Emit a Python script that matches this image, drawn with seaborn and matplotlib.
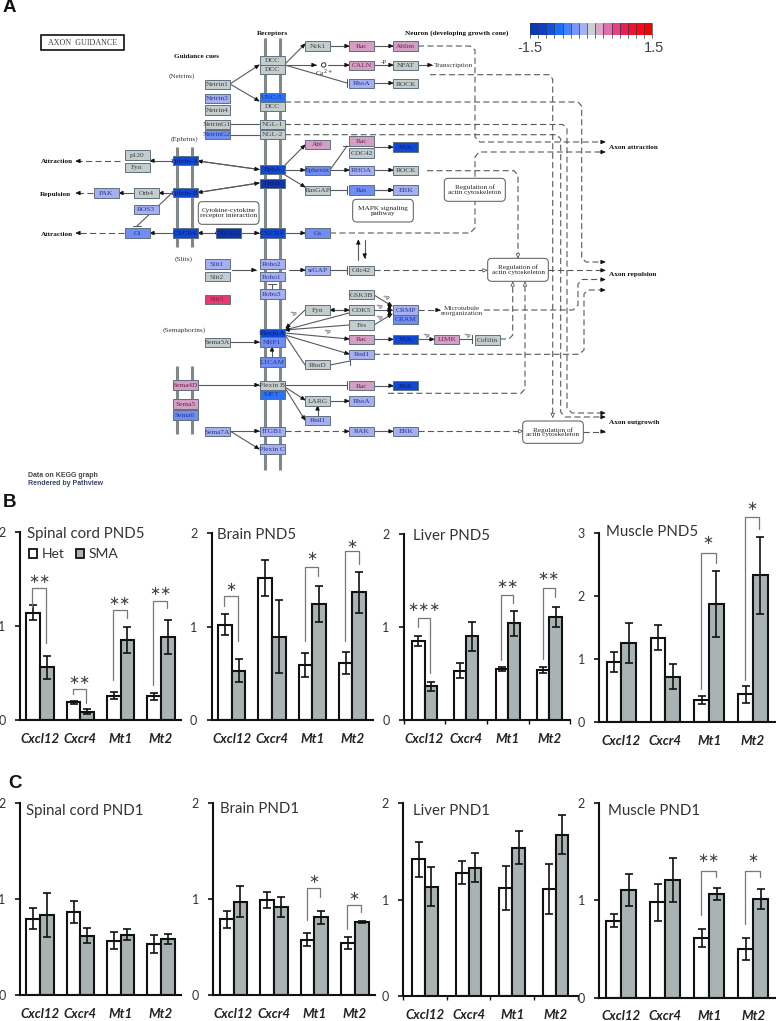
import matplotlib
matplotlib.use("Agg")
import matplotlib.pyplot as plt
from matplotlib.patches import Rectangle, FancyBboxPatch, Polygon, Circle
import numpy as np
import pandas as pd
import seaborn as sns

W, H = 776, 1021
sns.set_style("ticks")
plt.rcParams["font.family"] = ["Lato", "DejaVu Sans"]

GENES = ["Cxcl12", "Cxcr4", "Mt1", "Mt2"]
GROUPS = ["Het", "SMA"]

SC5_HET = [1.14, 0.19, 0.26, 0.25]
SC5_HET_ERR = [0.08, 0.015, 0.035, 0.035]
SC5_SMA = [0.56, 0.09, 0.85, 0.885]
SC5_SMA_ERR = [0.125, 0.025, 0.135, 0.18]
BR5_HET = [1.02, 1.52, 0.59, 0.61]
BR5_HET_ERR = [0.11, 0.19, 0.13, 0.12]
BR5_SMA = [0.53, 0.89, 1.24, 1.365]
BR5_SMA_ERR = [0.125, 0.39, 0.195, 0.22]
LV5_HET = [0.855, 0.53, 0.55, 0.54]
LV5_HET_ERR = [0.055, 0.08, 0.018, 0.035]
LV5_SMA = [0.365, 0.90, 1.04, 1.105]
LV5_SMA_ERR = [0.05, 0.16, 0.13, 0.107]
MU5_HET = [0.96, 1.34, 0.355, 0.44]
MU5_HET_ERR = [0.16, 0.20, 0.065, 0.13]
MU5_SMA = [1.255, 0.72, 1.875, 2.325]
MU5_SMA_ERR = [0.31, 0.20, 0.525, 0.61]
SC1_HET = [0.795, 0.86, 0.565, 0.527]
SC1_HET_ERR = [0.11, 0.113, 0.087, 0.094]
SC1_SMA = [0.83, 0.617, 0.627, 0.58]
SC1_SMA_ERR = [0.227, 0.08, 0.06, 0.052]
BR1_HET = [0.79, 0.988, 0.577, 0.543]
BR1_HET_ERR = [0.09, 0.082, 0.065, 0.06]
BR1_SMA = [0.975, 0.918, 0.81, 0.762]
BR1_SMA_ERR = [0.165, 0.105, 0.068, 0.012]
LV1_HET = [1.42, 1.28, 1.12, 1.115]
LV1_HET_ERR = [0.18, 0.12, 0.23, 0.26]
LV1_SMA = [1.135, 1.33, 1.54, 1.675]
LV1_SMA_ERR = [0.205, 0.15, 0.17, 0.205]
MU1_HET = [0.79, 0.978, 0.612, 0.496]
MU1_HET_ERR = [0.065, 0.19, 0.095, 0.113]
MU1_SMA = [1.105, 1.21, 1.067, 1.012]
MU1_SMA_ERR = [0.165, 0.225, 0.06, 0.106]

# significance: gene index, bracket top, left leg end, right leg end, stars, star height
SC5_SIG = [(0, 1.405, 1.20, 0.82, 2, 1.49), (1, 0.333, 0.276, 0.177, 2, 0.42),
           (2, 1.17, 0.43, 1.08, 2, 1.255), (3, 1.264, 0.37, 1.186, 2, 1.36)]
BR5_SIG = [(0, 1.33, 1.216, 0.852, 1, 1.42), (2, 1.636, 0.852, 1.544, 1, 1.75),
           (3, 1.804, 0.852, 1.672, 1, 1.875)]
LV5_SIG = [(0, 1.098, 0.998, 0.51, 3, 1.21), (2, 1.342, 0.648, 1.263, 2, 1.457),
           (3, 1.417, 0.655, 1.327, 2, 1.545)]
MU5_SIG = [(2, 2.673, 0.522, 2.525, 1, 2.87), (3, 3.242, 0.67, 3.057, 1, 3.42)]
BR1_SIG = [(2, 1.117, 0.783, 1.026, 1, 1.207), (3, 0.936, 0.685, 0.87, 1, 1.027)]
MU1_SIG = [(2, 1.299, 0.848, 1.241, 2, 1.425), (3, 1.299, 0.755, 1.241, 1, 1.425)]

# Panel A colours
GR, LB, MB, BB, DB, XB, PK, RD = ("#c4cccc", "#a6aff0", "#6f8df2", "#2a72f6", "#0f48d2",
                                  "#0c36a8", "#d2a0c2", "#e83a70")
SCALE_COLORS = ["#0a3bbf", "#0c40c8", "#0e52e0", "#1870f8", "#4884f8", "#7898f8", "#a8b0f0",
                "#c8d0d0", "#d8a8c8", "#e070a8", "#e84088", "#e82058", "#f01030", "#f80818", "#f80000"]
NODES = [
    ("DCC", 272, 60.5, GR), ("DCC", 272, 69.5, GR), ("UNC-5", 272, 97.5, BB), ("DCC", 272, 106.7, GR),
    ("NGL-1", 272, 124.5, GR), ("NGL-2", 272, 134.7, GR), ("EphA", 272, 169.7, DB), ("EphB", 272, 183.3, XB),
    ("CXCR4", 272, 233, DB), ("Robo2", 272, 264, LB), ("Robo1", 272, 276.7, LB), ("Robo3", 272, 294, LB),
    ("Plexin A", 272, 333.3, DB), ("NRP1", 272, 342, MB), ("L1CAM", 272, 362, MB), ("Plexin B", 272, 385.3, GR),
    ("MET", 272, 394.3, BB), ("ITGB1", 272, 431.3, LB), ("Plexin C", 272, 449, LB),
    ("Netrin1", 217, 84.3, GR), ("Netrin3", 217, 98.7, LB), ("Netrin4", 217, 110, GR),
    ("NetrinG1", 217, 124.3, GR), ("NetrinG2", 217, 134.7, MB), ("Slit1", 217, 264, LB),
    ("Slit2", 217, 276.7, GR), ("Slit3", 217, 299.3, RD), ("Sema3A", 217, 342.3, GR), ("Sema7A", 217, 431.7, LB),
    ("Ephrin-A", 185, 160.7, DB), ("Ephrin-B", 185, 192.7, DB), ("CXCR4", 185, 233, DB),
    ("Sema4D", 185, 385, PK), ("Sema5", 185, 404, PK), ("Sema6", 185, 415, MB), ("CXCL12", 228.7, 233, XB),
    ("p120", 137, 155, GR), ("Fyn", 137, 167.3, GR), ("Orb4", 146, 193, GR), ("FAK", 106, 193, LB),
    ("ROS3", 146, 209.3, LB), ("Gi", 137, 233, MB),
    ("Nck1", 317.5, 46, GR), ("Abl", 317.5, 144.7, PK), ("Ephexin", 317.5, 170.3, MB),
    ("RasGAP", 317.5, 190.3, GR), ("Gs", 317.5, 233, MB), ("srGAP", 317.5, 270.3, LB), ("Fyn", 317.5, 310, GR),
    ("RhoD", 317.5, 364.7, GR), ("LARG", 317.5, 401, GR), ("Rnd1", 317.5, 420.3, LB),
    ("Rac", 361.5, 46, PK), ("CALN", 361.5, 65.3, PK), ("RhoA", 361.5, 83.3, LB), ("Rac", 361.5, 141, PK),
    ("CDC42", 361.5, 153, GR), ("RHOA", 361.5, 170.3, LB), ("Ras", 361.5, 190, MB), ("Cdc42", 361.5, 270.3, GR),
    ("GSK3B", 361.5, 294.7, GR), ("CDK5", 361.5, 310, GR), ("Fes", 361.5, 325, GR), ("Rac", 361.5, 339.3, PK),
    ("Rnd1", 361.5, 354.3, LB), ("Rac", 361.5, 385.7, PK), ("RhoA", 361.5, 401, LB), ("RAK", 361.5, 431.3, LB),
    ("Ablim", 405.8, 46, PK), ("NFAT", 405.8, 65.3, GR), ("ROCK", 405.8, 83.7, GR), ("PAK", 405.8, 147, DB),
    ("ROCK", 405.8, 170.7, GR), ("ERK", 405.8, 190, LB), ("CRMP", 405.8, 310, LB), ("CRAM", 405.8, 319.3, MB),
    ("PAK", 405.8, 339.3, DB), ("PAK", 405.8, 385.7, DB), ("ERK", 405.8, 431.3, LB),
    ("LIMK", 446.7, 339.3, PK), ("Cofilin", 487, 340, GR),
]
ARROWS = [
    [(230, 84), (259, 65)], [(230, 84), (259, 101)], [(285, 64), (305, 44)], [(285, 65), (316, 65)],
    [(330, 46), (349, 46)], [(374, 46), (393, 46)], [(328, 65), (349, 65)], [(374, 65), (393, 65)],
    [(374, 83), (393, 83)], [(418, 65), (432, 65)], [(285, 165), (305, 145)], [(285, 170), (305, 170)],
    [(285, 175), (305, 187)], [(330, 170), (349, 170)], [(374, 170), (393, 170)], [(374, 190), (393, 190)],
    [(374, 147), (393, 147)], [(172, 160.7), (150, 160.7)], [(172, 193), (159, 193)], [(133, 193), (119, 193)],
    [(172, 233), (150, 233)], [(216, 233), (198, 233)], [(241, 233), (259, 233)], [(285, 233), (305, 233)],
    [(198, 161), (259, 169.5)], [(259, 169.5), (198, 161)], [(198, 192.5), (259, 183)], [(259, 183), (198, 192.5)],
    [(358.3, 260), (358.3, 240)], [(364.7, 240), (364.7, 258)], [(374, 339.3), (393, 339.3)],
    [(418, 339.3), (434, 339.3)], [(232, 270), (256, 270)], [(289, 270), (305, 270)],
    [(374, 295), (392, 306)], [(374, 310), (392, 310)], [(374, 325), (392, 314)], [(305, 310), (286, 328)],
    [(349, 310), (330, 310)], [(330, 310), (349, 310)], [(349, 313), (285, 330)], [(349, 325), (285, 330)],
    [(285, 333), (349, 339)], [(285, 335), (349, 354)], [(230, 342), (259, 342)], [(272, 357), (272, 347)],
    [(198, 385), (259, 385)], [(374, 385.7), (393, 385.7)], [(285, 387), (305, 400)], [(285, 388), (305, 420)],
    [(330, 401), (349, 401)], [(317.5, 415), (317.5, 406)], [(230, 431), (259, 431)], [(230, 431), (259, 449)],
    [(374, 431.3), (393, 431.3)], [(374, 190), (393, 190)],
]
PLAIN = [[(230, 124.5), (259, 124.5)], [(230, 134.7), (259, 134.7)], [(172, 193), (137, 226)],
         [(285, 335), (305, 365)]]
TBARS = [
    [(285, 65), (347, 83)], [(330, 190), (347, 190)], [(330, 170), (347, 146)], [(330, 270), (347, 270)],
    [(459, 339.3), (472, 339.3)], [(330, 365), (350, 361)], [(285, 385), (347, 385)], [(272, 289), (272, 284)],
    [(137, 226.5), (137, 226)],
]
DASHED = [
    ([(120, 161), (76, 161)], "fill"), ([(93, 193), (76, 193)], "fill"), ([(124, 233), (76, 233)], "fill"),
    ([(330, 233), (470, 233), (475, 228), (475, 157), (479, 152), (605, 152)], "fill"),
    ([(418, 46), (470, 46), (475, 50), (475, 137), (480, 142), (605, 142)], "fill"),
    ([(430, 74.7), (549, 74.7), (552.7, 79), (552.7, 417.5)], "open"),
    ([(285, 102), (578, 102), (581.7, 106), (581.7, 258), (586, 262), (605, 262)], "fill"),
    ([(285, 124.5), (563, 124.5), (567, 129), (567, 408), (572, 413), (605, 413)], "fill"),
    ([(285, 134.7), (557, 134.7), (560.7, 139), (560.7, 412), (565, 417), (605, 417)], "fill"),
    ([(427, 170.7), (514, 170.7), (518, 175), (518, 258), ], "open"),
    ([(374, 270.3), (487, 270.3)], "open"), ([(548, 270.3), (605, 270.3)], "fill"),
    ([(418, 310), (440, 310)], "fill"),
    ([(484, 310), (573, 310), (578, 305), (578, 284), (582, 279.5), (605, 279.5)], "fill"),
    ([(374, 354.3), (579, 354.3), (584, 350), (584, 294), (588, 290), (605, 290)], "fill"),
    ([(500, 339), (509, 339), (512.7, 335), (512.7, 282)], "open"),
    ([(388, 393.3), (521, 393.3), (525, 389), (525, 282)], "open"),
    ([(285, 431.3), (349, 431.3)], "fill"), ([(418, 431.3), (522.7, 431.3)], "open"),
    ([(583, 431.5), (605, 431.5)], "fill"),
]
BOXES = [
    ("Cytokine-cytokine\nreceptor interaction", 198.3, 201.7, 259, 224.3),
    ("MAPK signaling\npathway", 352.7, 199.3, 413.3, 222),
    ("Regulation of\nactin cytoskeleton", 444.3, 178.3, 505.3, 201.3),
    ("Regulation of\nactin cytoskeleton", 487.7, 258.3, 548.3, 281.3),
    ("Regulation of\nactin cytoskeleton", 522.7, 421, 583.3, 443.3),
]
SERIF = ["Liberation Serif", "DejaVu Serif"]
LABELS = [
    ("Receptors", 272, 33, "center", True), ("Guidance cues", 197, 57, "center", True),
    ("(Netrins)", 182, 76, "center", False), ("(Ephrins)", 184, 139.5, "center", False),
    ("(Slits)", 184, 259, "center", False), ("(Semaphorins)", 184, 330, "center", False),
    ("Neuron (developing growth cone)", 404.7, 33, "left", True), ("Transcription", 434, 66, "left", False),
    ("Attraction", 41, 161.7, "left", True), ("Repulsion", 40, 194, "left", True), ("Attraction", 41, 234, "left", True),
    ("Axon attraction", 609.3, 147.3, "left", True), ("Axon repulsion", 609.3, 274.7, "left", True),
    ("Axon outgrowth", 609.3, 422.7, "left", True), ("Microtubule\nreorganization", 461.7, 310.7, "center", False),
    ("Ca$^{2+}$", 324, 73, "center", False), ("-P", 384, 62, "center", False), ("+p", 293, 313.5, "center", False),
    ("+p", 327, 331, "center", False), ("+p", 379, 306, "center", False), ("+p", 379, 317, "center", False),
    ("+p", 386, 297, "center", False), ("+p", 426, 335, "center", False), ("+p", 467, 335, "center", False),
]


def px_rect(l, t, r, b):
    return [l / W, 1 - b / H, (r - l) / W, (b - t) / H]


fig = plt.figure(figsize=(W / 100, H / 100), dpi=100, facecolor="white")
ov = fig.add_axes([0, 0, 1, 1], zorder=0)
ov.set_xlim(0, W)
ov.set_ylim(H, 0)
ov.axis("off")

LINE = "#555a60"
for x in (265.3, 279.7):
    ov.plot([x, x], [37.7, 470], color="#80888c", lw=2.2, solid_capstyle="butt", zorder=1)
for x in (177.3, 192):
    ov.plot([x, x], [146.7, 246.7], color="#80888c", lw=2.2, solid_capstyle="butt", zorder=1)
    ov.plot([x, x], [366, 434.3], color="#80888c", lw=2.2, solid_capstyle="butt", zorder=1)


def head(p0, p1, open_head=False):
    p0, p1 = np.array(p0, float), np.array(p1, float)
    d = p1 - p0
    d = d / max(np.hypot(*d), 1e-6)
    n = np.array([-d[1], d[0]])
    base = p1 - d * 4.2
    ov.add_patch(Polygon([p1, base + n * 1.8, base - n * 1.8], closed=True, zorder=3,
                         facecolor="white" if open_head else "#111111",
                         edgecolor="#444444" if open_head else "#111111", lw=0.5))


for seg in ARROWS:
    (x0, y0), (x1, y1) = seg
    ov.plot([x0, x1], [y0, y1], color=LINE, lw=0.8, zorder=2)
    head(seg[0], seg[1])
for seg in PLAIN:
    (x0, y0), (x1, y1) = seg
    ov.plot([x0, x1], [y0, y1], color=LINE, lw=0.8, zorder=2)
for seg in TBARS:
    (x0, y0), (x1, y1) = seg
    ov.plot([x0, x1], [y0, y1], color=LINE, lw=0.8, zorder=2)
    d = np.array([x1 - x0, y1 - y0], float)
    if abs(d[0]) >= abs(d[1]):
        ov.plot([x1, x1], [y1 - 4, y1 + 4], color=LINE, lw=0.8, zorder=2)
    else:
        ov.plot([x1 - 4, x1 + 4], [y1, y1], color=LINE, lw=0.8, zorder=2)
for path, kind in DASHED:
    xs, ys = zip(*path)
    ov.plot(xs, ys, color=LINE, lw=0.8, dashes=(5.5, 3), zorder=2)
    head(path[-2], path[-1], kind == "open")
ov.add_patch(Circle((323.7, 65), 2.2, facecolor="white", edgecolor="#333333", lw=0.7, zorder=3))
ov.add_patch(Rectangle((387.5, 304.5), 3, 11, facecolor="#111111", edgecolor="none", zorder=3))

for name, cx, cy, col in NODES:
    ov.add_patch(Rectangle((cx - 12.5, cy - 4.7), 25, 9.4, facecolor=col, edgecolor="#5f7080", lw=0.7, zorder=4))
    tc = "#28348c" if col in (MB, BB, LB) else ("#101c70" if col in (DB, XB) else ("#7a2050" if col in (PK, RD) else "#3a4248"))
    ov.text(cx, cy + 0.3, name, ha="center", va="center", fontsize=5.3, family=SERIF, color=tc, zorder=5)

for txt, l, t, r, b in BOXES:
    ov.add_patch(FancyBboxPatch((l + 3, t + 3), r - l - 6, b - t - 6, boxstyle="round,pad=3,rounding_size=4",
                                facecolor="white", edgecolor="#555555", lw=0.7, zorder=4))
    ov.text((l + r) / 2, (t + b) / 2, txt, ha="center", va="center", fontsize=5.2, family=SERIF,
            color="#222222", linespacing=0.95, zorder=5)
for txt, x, y, ha, bold in LABELS:
    ov.text(x, y, txt, ha=ha, va="center", fontsize=5.2, family=SERIF, color="#111111" if bold else "#333333",
            fontweight="bold" if bold else "normal", linespacing=0.95, zorder=5)

ov.add_patch(Rectangle((41, 35.3), 82.7, 14.4, facecolor="white", edgecolor="#111111", lw=1.2, zorder=4))
ov.text(82.3, 43, "AXON  GUIDANCE", ha="center", va="center", fontsize=5.8, family=SERIF, color="#444444", zorder=5)

for i, col in enumerate(SCALE_COLORS):
    x0 = 530 + i * 8.16
    ov.add_patch(Rectangle((x0, 23.3), 8.16, 11.7, facecolor=col, edgecolor="none", zorder=3))
    ov.plot([x0, x0], [23.3, 38.3], color="#303840", lw=0.5, zorder=4)
ov.plot([652.4, 652.4], [23.3, 38.3], color="#303840", lw=0.5, zorder=4)
ov.text(530, 47.7, "-1.5", ha="center", va="center", fontsize=10.5, family="Liberation Sans", color="#3a4650")
ov.text(654, 47.7, "1.5", ha="center", va="center", fontsize=10.5, family="Liberation Sans", color="#3a4650")
ov.text(28, 475.7, "Data on KEGG graph", ha="left", va="center", fontsize=5, family="Liberation Sans",
        fontweight="bold", color="#444444")
ov.text(28, 483.7, "Rendered by Pathview", ha="left", va="center", fontsize=5, family="Liberation Sans",
        fontweight="bold", color="#3a4468")
for letter, x, y in (("A", 9, 7.5), ("B", 10, 502), ("C", 15, 783)):
    ov.text(x, y, letter, ha="center", va="center", fontsize=13.5, family="Liberation Sans", fontweight="bold",
            color="#111111")


def panel(box, title, title_xy, het, het_err, sma, sma_err, ymax, width, sig=(), ticks=False, pad=9.0, legend=False):
    l, t, r, b = box
    ax = fig.add_axes(px_rect(l, t, r, b), zorder=2)
    ax.patch.set_alpha(0)
    df = pd.DataFrame({
        "gene": GENES * 2,
        "group": [GROUPS[0]] * 4 + [GROUPS[1]] * 4,
        "value": list(het) + list(sma),
    })
    sns.barplot(data=df, x="gene", y="value", hue="group", hue_order=GROUPS, order=GENES, ax=ax,
                palette=["white", "#a9b3b3"], width=width, errorbar=None, edgecolor="#111111", linewidth=1.5,
                legend=legend, saturation=1)
    bw = width / 2
    pos = np.arange(4)
    for off, v, e in ((-bw / 2, het, het_err), (bw / 2, sma, sma_err)):
        ax.errorbar(pos + off, v, yerr=e, fmt="none", ecolor="#111111", elinewidth=1.2, capsize=2.6,
                    capthick=1.2, zorder=5, clip_on=False)
    ax.set_xlim(-0.5, 3.5)
    ax.set_ylim(0, ymax)
    ax.set_yticks(range(ymax + 1))
    ax.set_xlabel("")
    ax.set_ylabel("")
    sns.despine(ax=ax)
    for s in ("left", "bottom"):
        ax.spines[s].set_linewidth(1.5)
        ax.spines[s].set_color("#111111")
    ax.tick_params(axis="y", length=3.5, width=1.2, pad=6.8, labelsize=9, labelcolor="#333333", color="#111111")
    ax.tick_params(axis="x", which="major", length=0, pad=pad, labelsize=9.5, labelcolor="#222222")
    if ticks:
        ax.set_xticks(np.arange(-0.5, 4), minor=True)
        ax.tick_params(axis="x", which="minor", length=3, width=1.0, color="#111111")
    for lab in ax.get_xticklabels():
        lab.set_fontstyle("italic")
        lab.set_fontweight("bold")
    ax.set_title(title, loc="left", x=(title_xy[0] - l) / (r - l), y=(b - title_xy[1]) / (b - t),
                 fontsize=10.8, color="#333333", va="center", pad=0)
    for g, top, yl, yr, n, ys in sig:
        xl, xr = g - bw / 2 - 0.02, g + bw / 2 - 0.02
        ax.plot([xl, xl, xr, xr], [yl, top, top, yr], color="#777777", lw=0.9, zorder=6, clip_on=False)
        ax.text((xl + xr) / 2, ys, "\u2217" * n, ha="center", va="center", fontsize=9.5,
                family="DejaVu Sans", color="#444444", clip_on=False, zorder=6)
    if legend:
        sns.move_legend(ax, "center left", bbox_to_anchor=((29 - l) / (r - l), (b - 554) / (b - t)), ncol=2,
                        frameon=False, title=None, fontsize=10, handlelength=0.58, handleheight=0.62,
                        handletextpad=0.35, columnspacing=0.8, borderpad=0, borderaxespad=0,
                        labelcolor="#333333")
        for h in ax.get_legend().get_patches():
            h.set_linewidth(1.3)
    return ax


panel((20, 531.7, 181, 720), "Spinal cord PND5", (26.7, 534), SC5_HET, SC5_HET_ERR, SC5_SMA, SC5_SMA_ERR, 2, 0.68,
      SC5_SIG, legend=True)
panel((211.6, 533, 372.6, 720.3), "Brain PND5", (217.3, 534.6), BR5_HET, BR5_HET_ERR, BR5_SMA, BR5_SMA_ERR, 2, 0.68,
      BR5_SIG)
panel((403.7, 534, 570.3, 720.3), "Liver PND5", (412.7, 535.7), LV5_HET, LV5_HET_ERR, LV5_SMA, LV5_SMA_ERR, 2, 0.586,
      LV5_SIG, ticks=True)
panel((599.3, 532.7, 775, 722.3), "Muscle PND5", (606, 532.3), MU5_HET, MU5_HET_ERR, MU5_SMA, MU5_SMA_ERR, 3, 0.668,
      MU5_SIG)
panel((20, 802.7, 181, 995), "Spinal cord PND1", (26, 811), SC1_HET, SC1_HET_ERR, SC1_SMA, SC1_SMA_ERR, 2, 0.68)
panel((213.3, 803.3, 375, 995), "Brain PND1", (220, 809.3), BR1_HET, BR1_HET_ERR, BR1_SMA, BR1_SMA_ERR, 2, 0.68,
      BR1_SIG)
panel((403.3, 803.3, 577.5, 996), "Liver PND1", (412.7, 811), LV1_HET, LV1_HET_ERR, LV1_SMA, LV1_SMA_ERR, 2, 0.586,
      ticks=True)
panel((599.3, 802.7, 775.5, 997.7), "Muscle PND1", (608, 811), MU1_HET, MU1_HET_ERR, MU1_SMA, MU1_SMA_ERR, 2, 0.68,
      MU1_SIG)

fig.savefig("out.png", dpi=100)
